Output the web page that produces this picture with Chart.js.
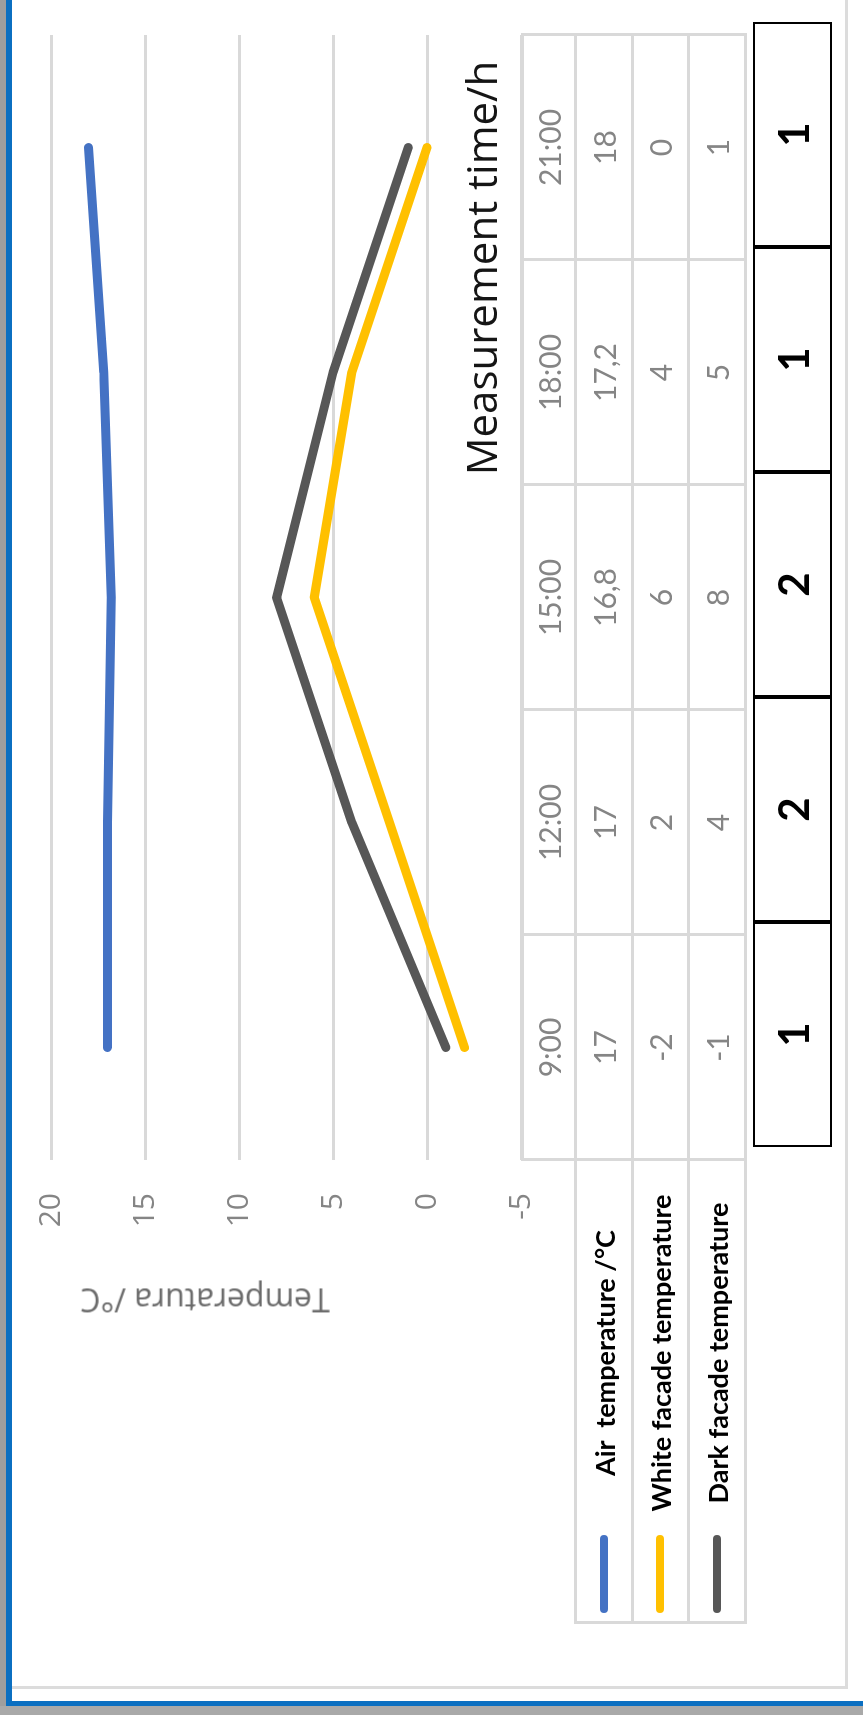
<!DOCTYPE html>
<html>
<head>
<meta charset="utf-8">
<script src="https://cdn.jsdelivr.net/npm/chart.js@4"></script>
<style>
  html, body { margin: 0; padding: 0; background: #fff; }
  body { width: 863px; height: 1715px; position: relative; overflow: hidden; }
  #grayL { position: absolute; left: 0; top: 0; width: 6px; height: 1715px; background: #9e9e9e; }
  #blueL { position: absolute; left: 6px; top: 0; width: 6px; height: 1706px; background: #0b6fc1; }
  #blueB { position: absolute; left: 6px; top: 1701px; width: 857px; height: 5px; background: #0b6fc1; }
  #grayB { position: absolute; left: 0; top: 1706px; width: 863px; height: 9px; background: #a9a9a9; }
  #panel { position: absolute; left: 12px; top: -5px; width: 833px; height: 1691px;
           border-right: 3px solid #dcdcdc; border-bottom: 3px solid #dcdcdc; }
  /* chart is laid out normally, then turned a quarter turn left */
  #rot { position: absolute; left: 0; top: 0; width: 1715px; height: 863px;
         transform-origin: 0 0; transform: translateY(1715px) rotate(-90deg); }
  #rot canvas { position: absolute; left: 0; top: 0; }
  .cell { position: absolute; box-sizing: border-box; display: flex; align-items: center;
          justify-content: center; border: 3px solid #d9d9d9; }
  .num { font-family: Lato, sans-serif; font-size: 30px; color: #858585; }
  .box { position: absolute; box-sizing: border-box; display: flex; align-items: center;
         justify-content: center; border: 2.5px solid #000;
         font-family: Lato, sans-serif; font-weight: bold; font-size: 42px; color: #000; }
  .legText { position: absolute; font-family: Lato, sans-serif; font-weight: bold; font-size: 27px;
             color: #000; white-space: pre; transform: translate(-50%, -50%); }
  .mark { position: absolute; height: 8px; border-radius: 4px; }
  #yTitle { position: absolute; left: 414px; top: 205px; white-space: nowrap;
            font-family: 'Open Sans', sans-serif; font-size: 32px; color: #6b6b6b;
            transform: translate(-50%, -50%) rotate(-90deg); }
  #xTitle { position: absolute; left: 1447px; top: 480px; white-space: nowrap;
            font-family: 'Open Sans', sans-serif; font-size: 42px; color: #151515;
            transform: translate(-50%, -50%); }
</style>
</head>
<body>
<div id="grayL"></div>
<div id="blueL"></div>
<div id="panel"></div>
<div id="blueB"></div>
<div id="grayB"></div>

<div id="rot">
  <canvas id="chart" width="1715" height="863"></canvas>
  <div id="yTitle">Temperatura /°C</div>
  <div id="xTitle">Measurement time/h</div>
</div>

<script>
// Measurement data
const times = ['9:00', '12:00', '15:00', '18:00', '21:00'];
const airTemp = [17, 17, 16.8, 17.2, 18];
const whiteFacade = [-2, 2, 6, 4, 0];
const darkFacade = [-1, 4, 8, 5, 1];
const boxValues = [1, 2, 2, 1, 1];

const seriesNames = ['Air  temperature /°C', 'White facade temperature', 'Dark facade temperature'];
const seriesColors = ['#4472c4', '#ffc000', '#575757'];
const yMin = -5, yMax = 20, yStep = 5;

const series = [airTemp, whiteFacade, darkFacade];

const ctx = document.getElementById('chart').getContext('2d');
const chart = new Chart(ctx, {
  type: 'line',
  data: {
    labels: times,
    datasets: series.map((vals, i) => ({
      label: seriesNames[i],
      data: vals,
      borderColor: seriesColors[i],
      backgroundColor: seriesColors[i],
      borderWidth: 9,
      borderCapStyle: 'round',
      borderJoinStyle: 'round',
      pointRadius: 0,
      fill: false,
      tension: 0
    }))
  },
  options: {
    responsive: false,
    animation: false,
    layout: { padding: { left: 0, right: 35, top: 51, bottom: 342 } },
    plugins: {
      legend: { display: false },
      tooltip: { enabled: false }
    },
    scales: {
      x: { display: false, offset: true },
      y: {
        min: yMin,
        max: yMax,
        ticks: {
          stepSize: yStep,
          color: '#858585',
          padding: 33,
          font: { family: "'Open Sans', sans-serif", size: 30 }
        },
        grid: { color: '#d9d9d9', lineWidth: 3, drawTicks: false },
        border: { display: false },
        afterFit: function(scale) { scale.width = 555; }
      }
    }
  }
});

// Data table under the plot, columns follow the category scale
const rot = document.getElementById('rot');
const xs = chart.scales.x;
const step = xs.getPixelForValue(1) - xs.getPixelForValue(0);
const rowEdges = [522, 575, 632, 688, 745];
const fmt = v => String(v).replace('.', ',');
const rows = [times, airTemp.map(fmt), whiteFacade.map(fmt), darkFacade.map(fmt)];

function addCell(x, y, w, h, html, cls) {
  const d = document.createElement('div');
  d.className = cls;
  d.style.left = x + 'px';
  d.style.top = y + 'px';
  d.style.width = w + 'px';
  d.style.height = h + 'px';
  d.innerHTML = html;
  rot.appendChild(d);
  return d;
}

rows.forEach((row, r) => {
  const y0 = rowEdges[r], y1 = rowEdges[r + 1];
  row.forEach((txt, i) => {
    const cx = xs.getPixelForValue(i);
    addCell(cx - step / 2 - 1.5, y0 - 1.5, step + 3, y1 - y0 + 3, '<span class="num">' + txt + '</span>', 'cell');
  });
});

// Legend keys in the row headers
const legLeft = 92, legRight = xs.left;
seriesNames.forEach((name, i) => {
  const y0 = rowEdges[i + 1], y1 = rowEdges[i + 2];
  addCell(legLeft - 1.5, y0 - 1.5, legRight - legLeft + 3, y1 - y0 + 3, '', 'cell');
  const mid = (y0 + y1) / 2;
  const m = document.createElement('div');
  m.className = 'mark';
  m.style.left = '102px';
  m.style.width = '78px';
  m.style.top = (mid - 4) + 'px';
  m.style.background = seriesColors[i];
  rot.appendChild(m);
  const t = document.createElement('div');
  t.className = 'legText';
  t.style.left = '362px';
  t.style.top = mid + 'px';
  t.textContent = name;
  rot.appendChild(t);
});

// Boxed row of counts along the far edge
boxValues.forEach((v, i) => {
  const cx = xs.getPixelForValue(i) + 13;
  const w = step * 1.004;
  addCell(cx - w / 2, 753, w, 79, String(v), 'box');
});
</script>
</body>
</html>
